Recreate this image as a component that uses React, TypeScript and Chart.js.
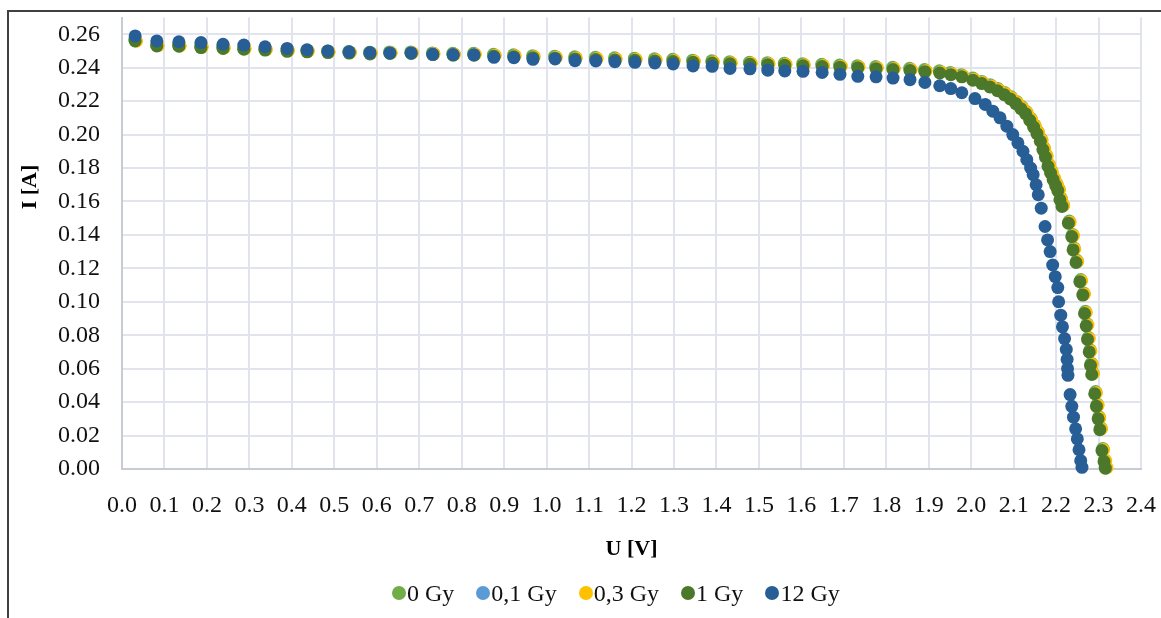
import React, { useEffect, useRef } from "react";
import { Chart, registerables } from "chart.js";

Chart.register(...registerables);

const SERIES_NAMES = ["0 Gy", "0,1 Gy", "0,3 Gy", "1 Gy", "12 Gy"];
const SERIES_COLORS = ["#70AD47", "#5B9BD5", "#FFC000", "#4C782C", "#285E96"];
const X_TITLE = "U [V]";
const Y_TITLE = "I [A]";
const X_TICKS = [0, 0.1, 0.2, 0.3, 0.4, 0.5, 0.6, 0.7, 0.8, 0.9, 1.0, 1.1, 1.2, 1.3, 1.4, 1.5, 1.6, 1.7, 1.8, 1.9, 2.0, 2.1, 2.2, 2.3, 2.4];
const Y_TICKS = [0, 0.02, 0.04, 0.06, 0.08, 0.1, 0.12, 0.14, 0.16, 0.18, 0.2, 0.22, 0.24, 0.26];

// 0 Gy
const V_0 = [0.030,0.081,0.133,0.185,0.237,0.286,0.336,0.388,0.435,0.484,0.534,0.583,0.630,0.680,0.731,0.779,0.828,0.875,0.922,0.967,1.019,1.066,1.115,1.160,1.207,1.254,1.297,1.344,1.389,1.431,1.478,1.520,1.560,1.603,1.648,1.690,1.732,1.775,1.815,1.855,1.890,1.925,1.951,1.977,2.004,2.025,2.045,2.063,2.079,2.094,2.107,2.119,2.130,2.140,2.149,2.157,2.165,2.171,2.177,2.183,2.189,2.195,2.201,2.206,2.211,2.216,2.231,2.239,2.242,2.249,2.258,2.265,2.269,2.273,2.276,2.280,2.283,2.286,2.293,2.297,2.301,2.305,2.310,2.314,2.317];
const I_0 = [0.2568,0.2537,0.2535,0.2528,0.2523,0.2518,0.2513,0.2507,0.2504,0.2499,0.2496,0.2492,0.2494,0.2494,0.2488,0.2486,0.2486,0.2480,0.2477,0.2472,0.2469,0.2465,0.2462,0.2459,0.2457,0.2453,0.2450,0.2445,0.2441,0.2436,0.2433,0.2430,0.2427,0.2424,0.2420,0.2416,0.2412,0.2407,0.2402,0.2396,0.2389,0.2381,0.2371,0.2358,0.2338,0.2318,0.2298,0.2275,0.2251,0.2226,0.2198,0.2168,0.2138,0.2098,0.2058,0.2018,0.1973,0.1923,0.1878,0.1823,0.1783,0.1743,0.1708,0.1678,0.1623,0.1583,0.1483,0.1403,0.1323,0.1248,0.1133,0.1053,0.0943,0.0868,0.0788,0.0713,0.0633,0.0578,0.0463,0.0388,0.0313,0.0248,0.0123,0.0055,0.0010];

// 0,1 Gy
const V_01 = [0.033,0.084,0.136,0.188,0.240,0.289,0.339,0.391,0.438,0.487,0.537,0.586,0.633,0.683,0.734,0.782,0.831,0.878,0.925,0.970,1.022,1.069,1.118,1.163,1.210,1.257,1.300,1.347,1.392,1.434,1.481,1.523,1.563,1.606,1.651,1.693,1.735,1.778,1.818,1.858,1.893,1.928,1.954,1.980,2.006,2.027,2.047,2.065,2.081,2.095,2.108,2.120,2.131,2.141,2.150,2.158,2.166,2.172,2.178,2.184,2.190,2.196,2.202,2.207,2.212,2.217,2.232,2.240,2.243,2.250,2.259,2.266,2.270,2.274,2.277,2.281,2.284,2.287,2.294,2.298,2.302,2.306,2.311,2.315,2.318];
const I_01 = [0.2562,0.2533,0.2531,0.2524,0.2519,0.2514,0.2509,0.2503,0.2500,0.2495,0.2492,0.2488,0.2490,0.2490,0.2484,0.2481,0.2481,0.2475,0.2472,0.2467,0.2464,0.2459,0.2456,0.2453,0.2451,0.2447,0.2444,0.2439,0.2435,0.2430,0.2427,0.2424,0.2421,0.2418,0.2414,0.2410,0.2406,0.2401,0.2396,0.2390,0.2383,0.2375,0.2365,0.2352,0.2332,0.2312,0.2292,0.2269,0.2245,0.2220,0.2192,0.2162,0.2132,0.2092,0.2052,0.2012,0.1967,0.1917,0.1872,0.1817,0.1777,0.1737,0.1702,0.1672,0.1617,0.1577,0.1477,0.1397,0.1317,0.1242,0.1127,0.1047,0.0937,0.0862,0.0782,0.0707,0.0627,0.0572,0.0457,0.0382,0.0307,0.0242,0.0117,0.0050,0.0006];

// 0,3 Gy
const V_03 = [0.034,0.085,0.137,0.189,0.241,0.290,0.340,0.392,0.439,0.488,0.538,0.587,0.634,0.684,0.735,0.783,0.832,0.879,0.926,0.971,1.023,1.070,1.119,1.164,1.211,1.258,1.301,1.348,1.393,1.435,1.482,1.524,1.564,1.607,1.652,1.694,1.736,1.779,1.819,1.859,1.894,1.929,1.955,1.981,2.007,2.028,2.048,2.066,2.082,2.096,2.109,2.121,2.132,2.142,2.151,2.159,2.167,2.173,2.179,2.185,2.191,2.197,2.203,2.208,2.213,2.218,2.233,2.241,2.244,2.251,2.260,2.267,2.271,2.275,2.278,2.282,2.285,2.288,2.295,2.299,2.303,2.307,2.312,2.317,2.320];
const I_03 = [0.2558,0.2532,0.2530,0.2523,0.2518,0.2513,0.2508,0.2502,0.2499,0.2494,0.2491,0.2487,0.2489,0.2489,0.2483,0.2480,0.2480,0.2474,0.2471,0.2466,0.2463,0.2458,0.2455,0.2452,0.2450,0.2446,0.2443,0.2438,0.2434,0.2429,0.2426,0.2423,0.2420,0.2417,0.2413,0.2409,0.2405,0.2400,0.2395,0.2389,0.2382,0.2374,0.2364,0.2351,0.2331,0.2311,0.2291,0.2268,0.2244,0.2219,0.2191,0.2161,0.2131,0.2091,0.2051,0.2011,0.1966,0.1916,0.1871,0.1816,0.1776,0.1736,0.1701,0.1671,0.1616,0.1576,0.1476,0.1396,0.1316,0.1241,0.1126,0.1046,0.0936,0.0861,0.0781,0.0706,0.0626,0.0571,0.0456,0.0381,0.0306,0.0241,0.0116,0.0051,0.0008];

// 1 Gy
const V_1 = [0.031,0.082,0.134,0.186,0.238,0.287,0.337,0.389,0.436,0.485,0.535,0.584,0.631,0.681,0.732,0.780,0.829,0.876,0.923,0.968,1.020,1.067,1.116,1.161,1.208,1.255,1.298,1.345,1.390,1.432,1.479,1.521,1.561,1.604,1.649,1.691,1.733,1.776,1.816,1.856,1.891,1.926,1.952,1.978,2.004,2.025,2.044,2.062,2.078,2.092,2.105,2.117,2.128,2.138,2.147,2.155,2.163,2.169,2.175,2.181,2.187,2.193,2.199,2.204,2.209,2.214,2.229,2.237,2.240,2.247,2.256,2.263,2.267,2.271,2.274,2.278,2.281,2.284,2.291,2.295,2.299,2.303,2.308,2.313,2.316];
const I_1 = [0.2560,0.2530,0.2528,0.2520,0.2515,0.2510,0.2505,0.2498,0.2495,0.2490,0.2487,0.2482,0.2485,0.2485,0.2478,0.2475,0.2475,0.2468,0.2465,0.2460,0.2457,0.2452,0.2449,0.2446,0.2444,0.2440,0.2437,0.2432,0.2428,0.2423,0.2420,0.2417,0.2414,0.2411,0.2407,0.2403,0.2399,0.2394,0.2389,0.2383,0.2376,0.2368,0.2358,0.2345,0.2325,0.2305,0.2285,0.2262,0.2238,0.2213,0.2185,0.2155,0.2125,0.2085,0.2045,0.2005,0.1960,0.1910,0.1865,0.1810,0.1770,0.1730,0.1695,0.1665,0.1610,0.1570,0.1470,0.1390,0.1310,0.1235,0.1120,0.1040,0.0930,0.0855,0.0775,0.0700,0.0620,0.0565,0.0450,0.0375,0.0300,0.0235,0.0110,0.0045,0.0005];

// 12 Gy
const V_12 = [0.031,0.082,0.134,0.186,0.238,0.287,0.337,0.389,0.436,0.485,0.535,0.584,0.631,0.681,0.732,0.780,0.829,0.876,0.923,0.968,1.020,1.067,1.116,1.161,1.208,1.255,1.298,1.345,1.390,1.432,1.479,1.521,1.561,1.604,1.649,1.691,1.733,1.776,1.816,1.856,1.891,1.926,1.952,1.978,2.009,2.033,2.051,2.068,2.084,2.098,2.110,2.122,2.131,2.140,2.146,2.153,2.158,2.165,2.174,2.180,2.186,2.192,2.198,2.204,2.206,2.211,2.215,2.220,2.224,2.226,2.227,2.228,2.233,2.237,2.241,2.246,2.250,2.254,2.258,2.261];
const I_12 = [0.2590,0.2560,0.2555,0.2550,0.2540,0.2535,0.2525,0.2515,0.2507,0.2500,0.2495,0.2490,0.2488,0.2488,0.2480,0.2478,0.2477,0.2462,0.2460,0.2450,0.2452,0.2442,0.2440,0.2436,0.2432,0.2428,0.2422,0.2410,0.2408,0.2395,0.2393,0.2385,0.2380,0.2378,0.2371,0.2360,0.2348,0.2345,0.2338,0.2328,0.2312,0.2292,0.2275,0.2250,0.2215,0.2180,0.2140,0.2100,0.2050,0.2000,0.1950,0.1900,0.1850,0.1800,0.1760,0.1700,0.1640,0.1560,0.1450,0.1370,0.1300,0.1220,0.1150,0.1085,0.1000,0.0920,0.0850,0.0780,0.0715,0.0655,0.0600,0.0560,0.0445,0.0375,0.0310,0.0240,0.0180,0.0115,0.0050,0.0010];

const SERIES_V = [V_0, V_01, V_03, V_1, V_12];
const SERIES_I = [I_0, I_01, I_03, I_1, I_12];

const FONT_FAMILY = '"Liberation Serif", "Times New Roman", serif';

const yTitlePlugin = {
  id: "yTitleCustom",
  afterDraw(chart: any) {
    const ctx = chart.ctx;
    ctx.save();
    ctx.translate(30, 187);
    ctx.rotate(-Math.PI / 2);
    ctx.font = `bold 22px ${FONT_FAMILY}`;
    ctx.fillStyle = "#000000";
    ctx.textAlign = "center";
    ctx.textBaseline = "middle";
    ctx.fillText(Y_TITLE, 0, 0);
    ctx.restore();
  },
};

export default function App() {
  const canvasRef = useRef<HTMLCanvasElement | null>(null);

  useEffect(() => {
    if (!canvasRef.current) return;
    const datasets = SERIES_NAMES.map((name, s) => ({
      label: name,
      data: SERIES_V[s].map((v, i) => ({ x: v, y: SERIES_I[s][i] })),
      backgroundColor: SERIES_COLORS[s],
      borderColor: SERIES_COLORS[s],
      borderWidth: 0,
      pointRadius: 6.5,
      pointHoverRadius: 6.5,
      showLine: false,
      clip: false as any,
      order: SERIES_NAMES.length - 1 - s,
    }));

    const chart = new Chart(canvasRef.current, {
      type: "scatter",
      data: { datasets },
      plugins: [yTitlePlugin],
      options: {
        animation: false,
        responsive: false,
        events: [],
        layout: { padding: { left: 0, right: 20, top: 17.5, bottom: 0 } },
        plugins: {
          legend: { display: false },
          tooltip: { enabled: false },
          title: { display: false },
        },
        scales: {
          x: {
            type: "linear",
            min: 0,
            max: 2.4,
            afterBuildTicks: (scale: any) => {
              scale.ticks = X_TICKS.map((v) => ({ value: v }));
            },
            afterFit: (scale: any) => {
              scale.height = 149;
              scale.paddingLeft = 0;
              scale.paddingRight = 0;
            },
            ticks: {
              padding: 22,
              color: "#111111",
              font: { family: FONT_FAMILY, size: 24 },
              maxRotation: 0,
              autoSkip: false,
              callback: (value: any) => Number(value).toFixed(1),
            },
            grid: { color: "#e1e4ec", lineWidth: 2, drawTicks: false },
            border: { display: true, color: "#c6cbd4", width: 2 },
            title: {
              display: true,
              text: X_TITLE,
              color: "#000000",
              font: { family: FONT_FAMILY, size: 22, weight: "bold" },
              padding: { top: 0, bottom: 55 },
            },
          },
          y: {
            type: "linear",
            min: 0,
            max: 0.27,
            afterBuildTicks: (scale: any) => {
              scale.ticks = Y_TICKS.map((v) => ({ value: v }));
            },
            afterFit: (scale: any) => {
              scale.width = 122;
              scale.paddingTop = 0;
              scale.paddingBottom = 0;
            },
            ticks: {
              padding: 22,
              color: "#111111",
              font: { family: FONT_FAMILY, size: 24 },
              autoSkip: false,
              callback: (value: any) => Number(value).toFixed(2),
            },
            grid: { color: "#e1e4ec", lineWidth: 2, drawTicks: false },
            border: { display: true, color: "#c6cbd4", width: 2 },
          },
        },
      },
    });
    return () => chart.destroy();
  }, []);

  return (
    <div style={{ position: "fixed", left: 0, top: 0, width: 1161, height: 618, background: "#ffffff", overflow: "hidden" }}>
      <canvas ref={canvasRef} width={1161} height={618} style={{ position: "absolute", left: 0, top: 0, width: 1161, height: 618 }} />
      <div style={{ position: "absolute", left: 7, top: 10, width: 1154, height: 2, background: "#404040" }} />
      <div style={{ position: "absolute", left: 7, top: 10, width: 2, height: 608, background: "#404040" }} />
      <div
        style={{
          position: "absolute",
          left: 392,
          top: 578,
          display: "flex",
          alignItems: "center",
          gap: 22,
          fontFamily: FONT_FAMILY,
          fontSize: 24,
          lineHeight: "30px",
          color: "#111111",
          whiteSpace: "nowrap",
        }}
      >
        {SERIES_NAMES.map((name, i) => (
          <div key={name} style={{ display: "flex", alignItems: "center" }}>
            <span style={{ display: "inline-block", width: 14, height: 14, borderRadius: 7, background: SERIES_COLORS[i], marginRight: 1 }} />
            <span>{name}</span>
          </div>
        ))}
      </div>
    </div>
  );
}
